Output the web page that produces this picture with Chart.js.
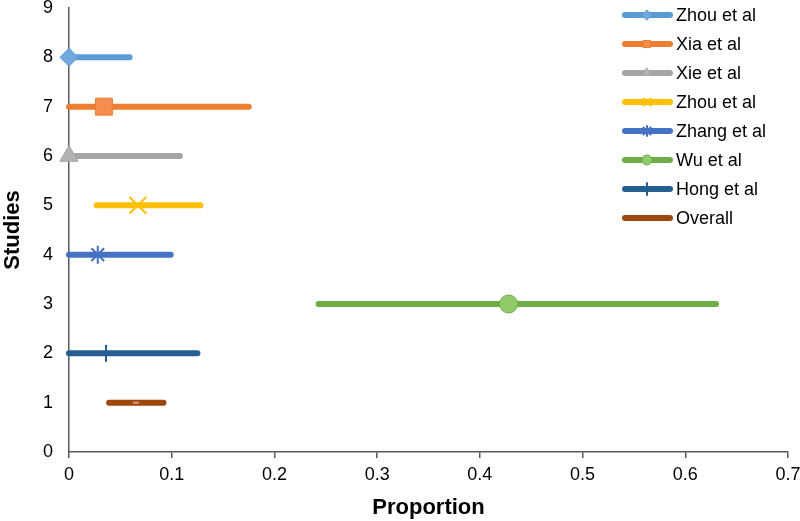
<!DOCTYPE html>
<html>
<head>
<meta charset="utf-8">
<style>
  html, body { margin: 0; padding: 0; background: #fff; }
  #wrap { width: 800px; height: 521px; }
</style>
<script src="https://cdn.jsdelivr.net/npm/chart.js@4.4.1/dist/chart.umd.min.js"></script>
</head>
<body>
<div id="wrap"><canvas id="forestChart"></canvas></div>
<script>
// studies, top to bottom, with their row on the y axis
const studies = ['Zhou et al', 'Xia et al', 'Xie et al', 'Zhou et al', 'Zhang et al', 'Wu et al', 'Hong et al', 'Overall'];
const rows = [8, 7, 6, 5, 4, 3, 2, 1];
const estimates = [0, 0.034, 0, 0.067, 0.028, 0.428, 0.036, 0.065];
const lower = [0, 0, 0, 0.027, 0, 0.243, 0, 0.039];
const upper = [0.059, 0.175, 0.108, 0.128, 0.099, 0.630, 0.125, 0.092];
const xTicks = [0, 0.1, 0.2, 0.3, 0.4, 0.5, 0.6, 0.7];

const lineColors = ['#5B9BD5', '#ED7D31', '#A5A5A5', '#FFC000', '#4472C4', '#70AD47', '#255E91', '#9E480E'];
const markerFills = ['#6FA9DE', '#F58D4E', '#B3B3B3', '#FFC000', '#4472C4', '#8FCB69', '#255E91', '#E0895A'];
const markerEdges = ['#5B9BD5', '#ED7D31', '#A5A5A5', '#FFC000', '#4472C4', '#70AD47', '#255E91', '#E39A72'];
const markerStyles = ['rectRot', 'rect', 'triangle', 'crossRot', 'star', 'circle', 'line', 'line'];
const markerSizes = [9, 12, 10.5, 12, 9, 9, 8.5, 3];
const markerRotations = [0, 0, 0, 0, 0, 0, 90, 0];

const FONT = '"Liberation Sans", Arial, sans-serif';

const datasets = studies.map((name, i) => ({
    label: name,
    data: [
        { x: lower[i], y: rows[i] },
        { x: estimates[i], y: rows[i] },
        { x: upper[i], y: rows[i] }
    ],
    borderColor: lineColors[i],
    borderWidth: 6,
    borderCapStyle: 'round',
    pointRadius: [0, markerSizes[i], 0],
    pointStyle: markerStyles[i],
    rotation: markerRotations[i],
    pointBackgroundColor: markerFills[i],
    pointBorderColor: markerEdges[i],
    pointBorderWidth: (markerStyles[i] === 'crossRot' || markerStyles[i] === 'star' || markerStyles[i] === 'line') ? 2 : 1,
    showLine: true,
    clip: false,
    order: i
}));

// legend drawn like the office style: short thick line with marker in the middle
const lineLegend = {
    id: 'lineLegend',
    afterDraw(chart) {
        const ctx = chart.ctx;
        ctx.save();
        chart.data.datasets.forEach((ds, i) => {
            const y = 15 + i * 29;
            ctx.strokeStyle = ds.borderColor;
            ctx.lineWidth = 6;
            ctx.lineCap = 'round';
            ctx.beginPath();
            ctx.moveTo(625, y);
            ctx.lineTo(670, y);
            ctx.stroke();
            if (i < 7) {
                ctx.fillStyle = ds.pointBackgroundColor;
                ctx.strokeStyle = ds.pointBorderColor;
                ctx.lineWidth = ds.pointBorderWidth;
                Chart.helpers.drawPoint(ctx, {
                    pointStyle: ds.pointStyle,
                    rotation: ds.rotation,
                    radius: ds.pointStyle === 'line' ? 6 : 5,
                    borderWidth: ds.pointBorderWidth
                }, 647, y);
            }
            ctx.fillStyle = '#000';
            ctx.font = '18px ' + FONT;
            ctx.textAlign = 'left';
            ctx.textBaseline = 'middle';
            ctx.fillText(ds.label, 676, y + 1);
        });
        ctx.restore();
    }
};

new Chart(document.getElementById('forestChart'), {
    type: 'scatter',
    data: { datasets: datasets },
    plugins: [lineLegend],
    options: {
        responsive: true,
        maintainAspectRatio: false,
        animation: false,
        layout: { padding: { top: 8, right: 12, left: 0, bottom: 0 } },
        plugins: {
            legend: { display: false },
            tooltip: { enabled: false }
        },
        scales: {
            x: {
                type: 'linear',
                min: 0,
                max: 0.7,
                afterBuildTicks: (axis) => { axis.ticks = xTicks.map(v => ({ value: v })); },
                grid: { drawOnChartArea: false, drawTicks: true, tickLength: 6, color: '#595959', lineWidth: 1.5 },
                border: { display: true, color: '#595959', width: 1.5 },
                ticks: { color: '#000', font: { family: FONT, size: 18 }, padding: 6, maxRotation: 0 },
                title: { display: true, text: 'Proportion', color: '#000', font: { family: FONT, size: 22, weight: 'bold' }, padding: { top: 10, bottom: 0 } },
                afterFit: (axis) => { axis.height = 69; axis.paddingRight = 0; axis.paddingLeft = 0; }
            },
            y: {
                type: 'linear',
                min: 0,
                max: 9,
                ticks: { stepSize: 1, color: '#000', font: { family: FONT, size: 18 }, padding: 8 },
                grid: { display: false },
                border: { display: true, color: '#595959', width: 1.5 },
                title: { display: true, text: 'Studies', color: '#000', font: { family: FONT, size: 22, weight: 'bold' }, padding: { top: 0, bottom: 4 } },
                afterFit: (axis) => { axis.width = 69; axis.paddingTop = 0; axis.paddingBottom = 0; }
            }
        }
    }
});
</script>
</body>
</html>
